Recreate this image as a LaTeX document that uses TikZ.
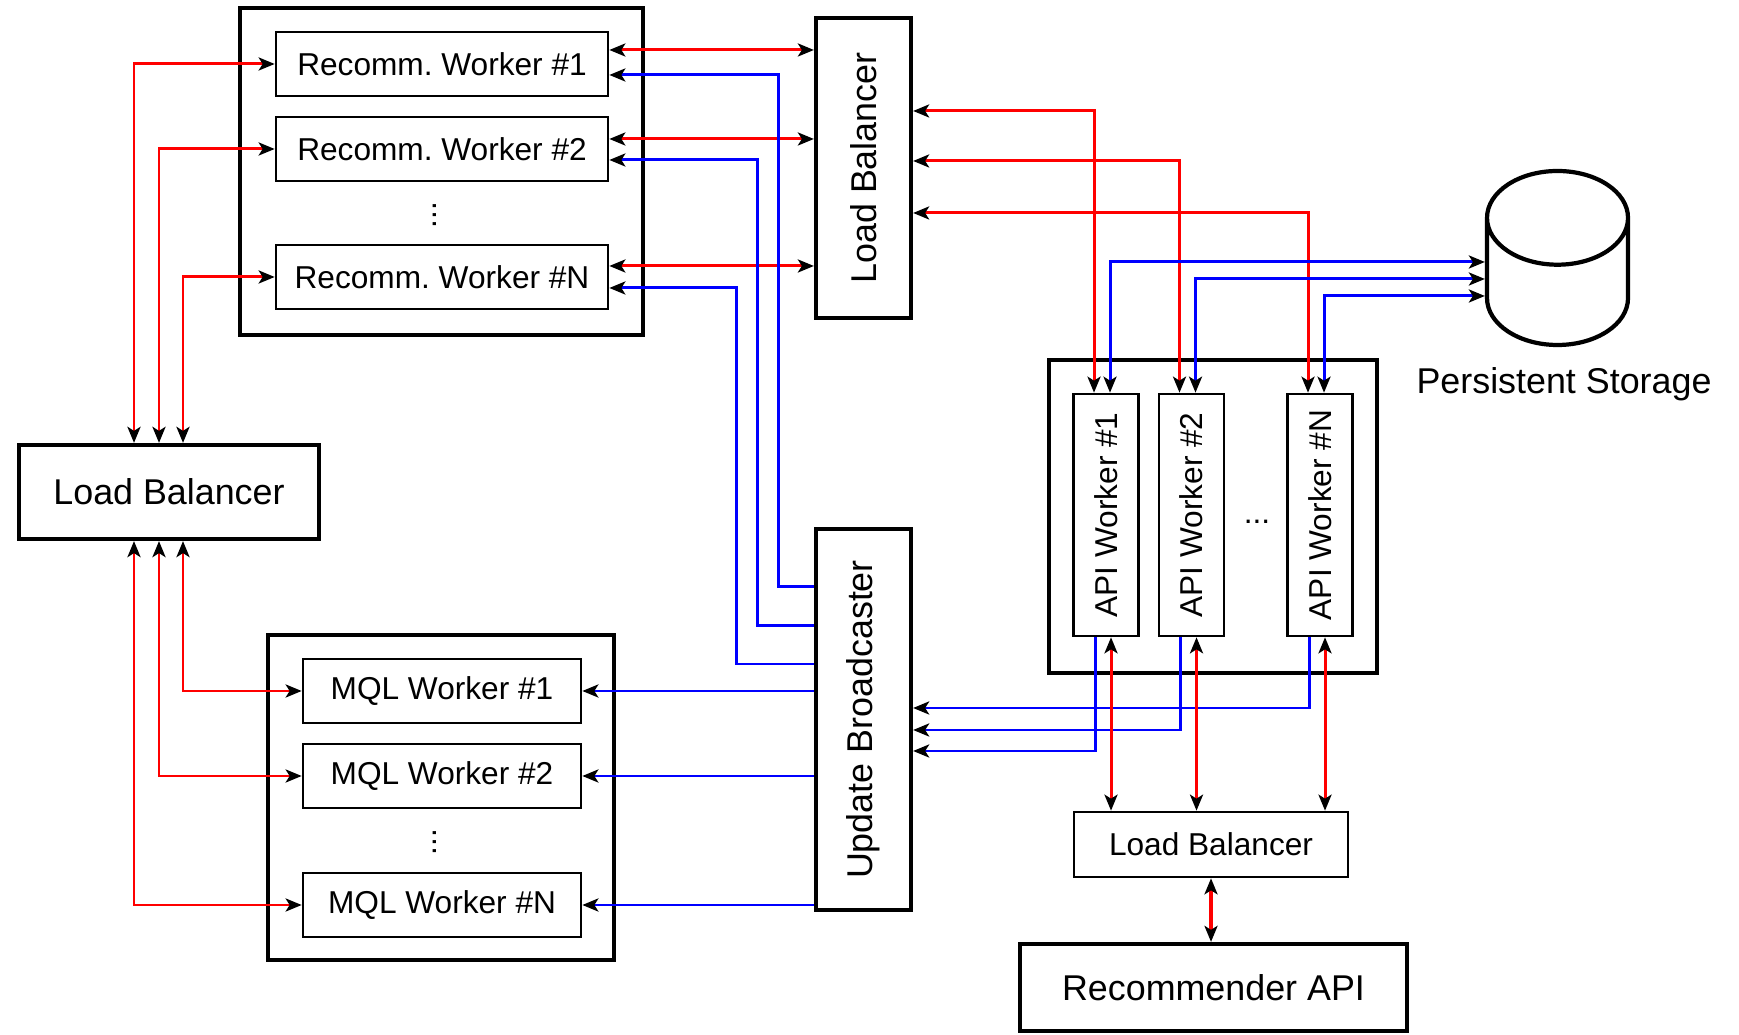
\documentclass[tikz,border=0pt]{standalone}
\usepackage{fontspec}
\setmainfont{Liberation Sans}
\usetikzlibrary{arrows.meta,shapes.geometric}

\begin{document}
\begin{tikzpicture}[
    >={Stealth[black, length=1.6mm, width=1.3mm, inset=0.4mm]},
    group/.style={draw, line width=1.2pt},
    worker/.style={draw, line width=0.75pt, inner sep=0pt, font=\fontsize{9}{11}\selectfont},
    balancer/.style={draw, line width=1.2pt, inner sep=0pt, font=\fontsize{10.2}{12}\selectfont},
    dots/.style={inner sep=0pt, font=\fontsize{9}{11}\selectfont},
    req/.style={draw=red, line width=0.85pt, <->},
    upd/.style={draw=blue, line width=0.85pt, ->},
    upds/.style={draw=blue, line width=0.85pt, <->}
]
    \useasboundingbox (0,0) rectangle (17.39,10.34);

    % recommendation workers
    \draw[group] (2.40,10.26) rectangle (6.43,6.99);
    \node[worker, minimum width=3.32cm, minimum height=0.64cm] (rw1) at (4.42,9.70) {Recomm.\ Worker \#1};
    \node[worker, minimum width=3.32cm, minimum height=0.64cm] (rw2) at (4.42,8.85) {Recomm.\ Worker \#2};
    \node[worker, minimum width=3.32cm, minimum height=0.64cm] (rwN) at (4.42,7.57) {Recomm.\ Worker \#N};
    \node[dots] (rwdots) at (4.35,8.19) {\rotatebox{90}{...}};

    % balancers
    \node[balancer, minimum width=0.95cm, minimum height=3.00cm] (lbTop) at (8.635,8.66) {\rotatebox{90}{Load Balancer}};
    \node[balancer, minimum width=3.00cm, minimum height=0.94cm] (lbLeft) at (1.69,5.42) {Load Balancer};
    \node[worker, minimum width=2.74cm, minimum height=0.65cm] (lbBot) at (12.11,1.895) {Load Balancer};

    % MQL workers
    \draw[group] (2.68,3.99) rectangle (6.14,0.74);
    \node[worker, minimum width=2.78cm, minimum height=0.64cm] (mw1) at (4.42,3.43) {MQL Worker \#1};
    \node[worker, minimum width=2.78cm, minimum height=0.64cm] (mw2) at (4.42,2.58) {MQL Worker \#2};
    \node[worker, minimum width=2.78cm, minimum height=0.64cm] (mwN) at (4.42,1.29) {MQL Worker \#N};
    \node[dots] (mwdots) at (4.35,1.92) {\rotatebox{90}{...}};

    \node[balancer, minimum width=0.95cm, minimum height=3.81cm] (ub) at (8.635,3.145) {\rotatebox{90}{Update Broadcaster}};

    % API workers
    \draw[group] (10.49,6.74) rectangle (13.77,3.61);
    \node[worker, minimum width=0.65cm, minimum height=2.42cm] (aw1) at (11.06,5.19) {\rotatebox{90}{API Worker \#1}};
    \node[worker, minimum width=0.65cm, minimum height=2.42cm] (aw2) at (11.915,5.19) {\rotatebox{90}{API Worker \#2}};
    \node[worker, minimum width=0.65cm, minimum height=2.42cm] (awN) at (13.20,5.19) {\rotatebox{90}{API Worker \#N}};
    \node[dots, anchor=base] (awdots) at (12.57,5.10) {...};

    \node[balancer, minimum width=3.87cm, minimum height=0.87cm] (recAPI) at (12.135,0.465) {Recommender API};

    % storage
    \node[cylinder, shape border rotate=90, draw, line width=1.2pt, aspect=4,
          minimum width=1.41cm, minimum height=1.74cm, anchor=shape center] (store) at (15.575,7.76) {};
    \node[font=\fontsize{10.2}{12}\selectfont] (storeLabel) at (15.64,6.50) {Persistent Storage};

    % left balancer to workers
    \foreach \w/\dx in {rw1/-3.5mm, rw2/-1mm, rwN/1.4mm}
        \draw[req] ([xshift=\dx]lbLeft.north) |- (\w.west);
    \foreach \w/\dx in {mw1/1.4mm, mw2/-1mm, mwN/-3.5mm}
        \draw[req] ([xshift=\dx]lbLeft.south) |- (\w.west);

    % recomm workers to top balancer
    \foreach \w/\dy in {rw1/1.4mm, rw2/1.0mm, rwN/1.1mm}
        \draw[req] ([yshift=\dy]\w.east) coordinate (p) -- (p -| lbTop.west);

    % updates out of the broadcaster
    \foreach \w/\x/\y in {rw1/7.78/4.47, rw2/7.57/4.08, rwN/7.36/3.70}
        \draw[upd] (ub.west |- 0,\y) -- (\x,\y) |- ([yshift=-1.1mm]\w.east);
    \foreach \w in {mw1,mw2,mwN}
        \draw[upd] (ub.west |- \w.east) -- (\w.east);

    % top balancer and storage to API workers
    \foreach \w/\y in {aw1/9.23, aw2/8.73, awN/8.21}
        \draw[req] (lbTop.east |- 0,\y) -| ([xshift=-1.2mm]\w.north);
    \foreach \w/\y in {aw1/7.72, aw2/7.55, awN/7.38}
        \draw[upds] ([xshift=0.4mm]\w.north) |- (store.west |- 0,\y);

    % API workers back to the broadcaster and to the bottom balancer
    \foreach \w/\y in {aw1/2.83, aw2/3.04, awN/3.26}
        \draw[upd] ([xshift=-1.1mm]\w.south) |- (ub.east |- 0,\y);
    \foreach \w in {aw1,aw2,awN}
        \draw[req] ([xshift=0.5mm]\w.south) coordinate (q) -- (q |- lbBot.north);

    \draw[req, line width=1.3pt] (lbBot.south) -- (lbBot.south |- recAPI.north);
\end{tikzpicture}
\end{document}
